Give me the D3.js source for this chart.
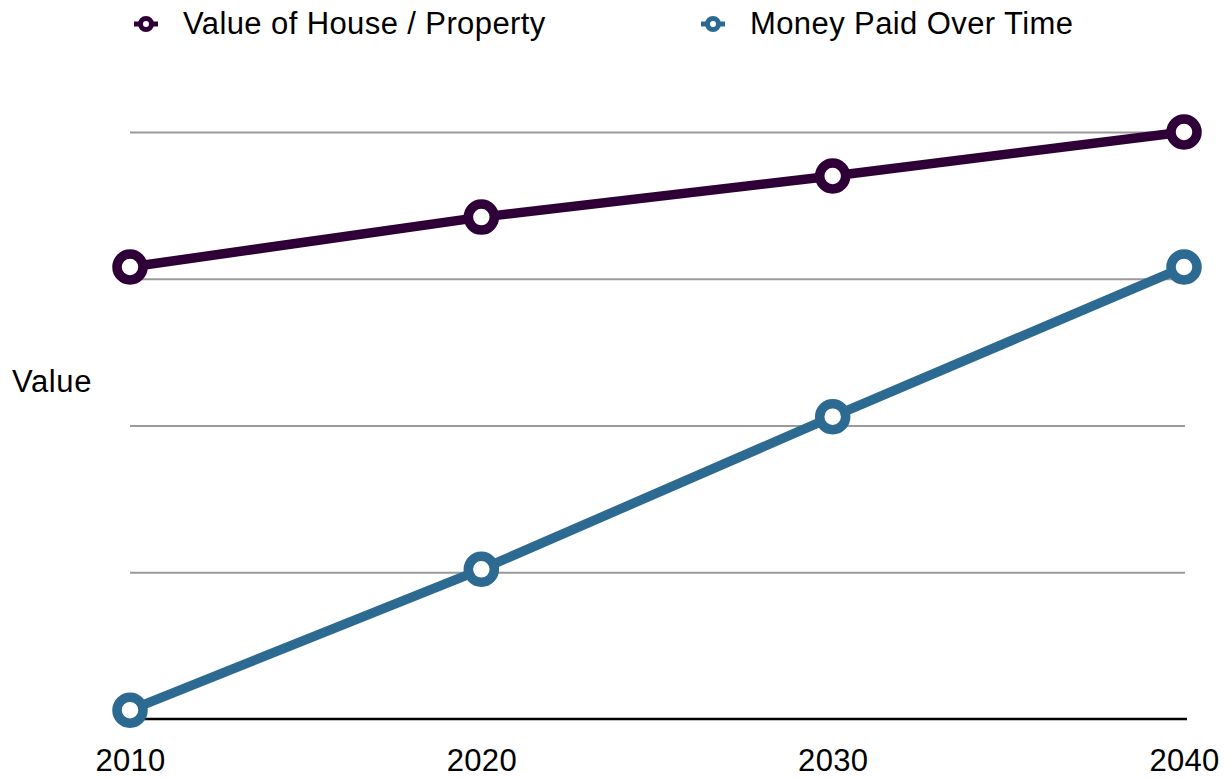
<!DOCTYPE html>
<html>
<head>
<meta charset="utf-8">
<script src="https://cdn.jsdelivr.net/npm/d3@7"></script>
<style>
  body { margin: 0; background: #fff; }
  text { font-family: "Liberation Sans", Arial, Helvetica, sans-serif; }
</style>
</head>
<body>
<script>
const w = 1231;
const h = 778;

// data
const years = [2010, 2020, 2030, 2040];
const houseValue = [154, 171, 185, 200];
const moneyPaid = [3, 51, 103, 154];
const yTicks = [0, 50, 100, 150, 200];
const seriesNames = ["Value of House / Property", "Money Paid Over Time"];
const colors = ["#2e0037", "#2d6a91"];

const svg = d3.select("body").append("svg").attr("width", w).attr("height", h);

const xScale = d3.scaleLinear().domain([2010, 2040]).range([130, 1184]);
const yScale = d3.scaleLinear().domain([0, 200]).range([719, 132]);

// gridlines
svg
  .append("g")
  .attr("transform", "translate(130,0)")
  .call(d3.axisLeft(yScale).tickValues(yTicks.slice(1)).tickSize(-1055).tickFormat(""))
  .call(g => g.select(".domain").remove())
  .call(g => g.selectAll("line").attr("stroke", "#9a9a9a").attr("stroke-width", 2));

// x axis
svg
  .append("g")
  .attr("transform", "translate(0,719)")
  .call(d3.axisBottom(xScale).tickValues(years).tickFormat(d3.format("d")).tickSize(0).tickPadding(30))
  .call(g => g.select(".domain").attr("stroke", "#000").attr("stroke-width", 2.5).attr("d", "M130,0H1187"))
  .call(g => g.selectAll("text").style("font-size", "31px").attr("fill", "#000")
    .style("letter-spacing", "0.3px")
    .style("font-family", "'Liberation Sans', Arial, Helvetica, sans-serif"));

// y label
svg
  .append("text")
  .attr("x", 12)
  .attr("y", 392)
  .style("font-size", "31px")
  .style("letter-spacing", "0.6px")
  .text("Value");

const series = [houseValue, moneyPaid];
const line = d3
  .line()
  .x((d, i) => xScale(years[i]))
  .y(d => yScale(d));

series.forEach((vals, k) => {
  svg
    .append("path")
    .datum(vals)
    .attr("d", line)
    .attr("fill", "none")
    .attr("stroke", colors[k])
    .attr("stroke-width", 9.5);

  svg
    .selectAll(".dot" + k)
    .data(vals)
    .enter()
    .append("circle")
    .attr("class", "dot" + k)
    .attr("cx", (d, i) => xScale(years[i]))
    .attr("cy", d => yScale(d))
    .attr("r", 13)
    .attr("fill", "#fff")
    .attr("stroke", colors[k])
    .attr("stroke-width", 9.5);
});

// legend
const legendX = [146, 713];
const legend = svg
  .selectAll(".legend")
  .data(seriesNames)
  .enter()
  .append("g")
  .attr("class", "legend")
  .attr("transform", (d, i) => "translate(" + legendX[i] + ",24)");

legend
  .append("line")
  .attr("x1", -12)
  .attr("x2", 12)
  .attr("stroke", (d, i) => colors[i])
  .attr("stroke-width", 5);

legend
  .append("circle")
  .attr("r", 5.5)
  .attr("fill", "#fff")
  .attr("stroke", (d, i) => colors[i])
  .attr("stroke-width", 5);

legend
  .append("text")
  .attr("x", 37)
  .attr("y", 10)
  .style("font-size", "31px")
  .style("letter-spacing", "0.4px")
  .text(d => d);
</script>
</body>
</html>
